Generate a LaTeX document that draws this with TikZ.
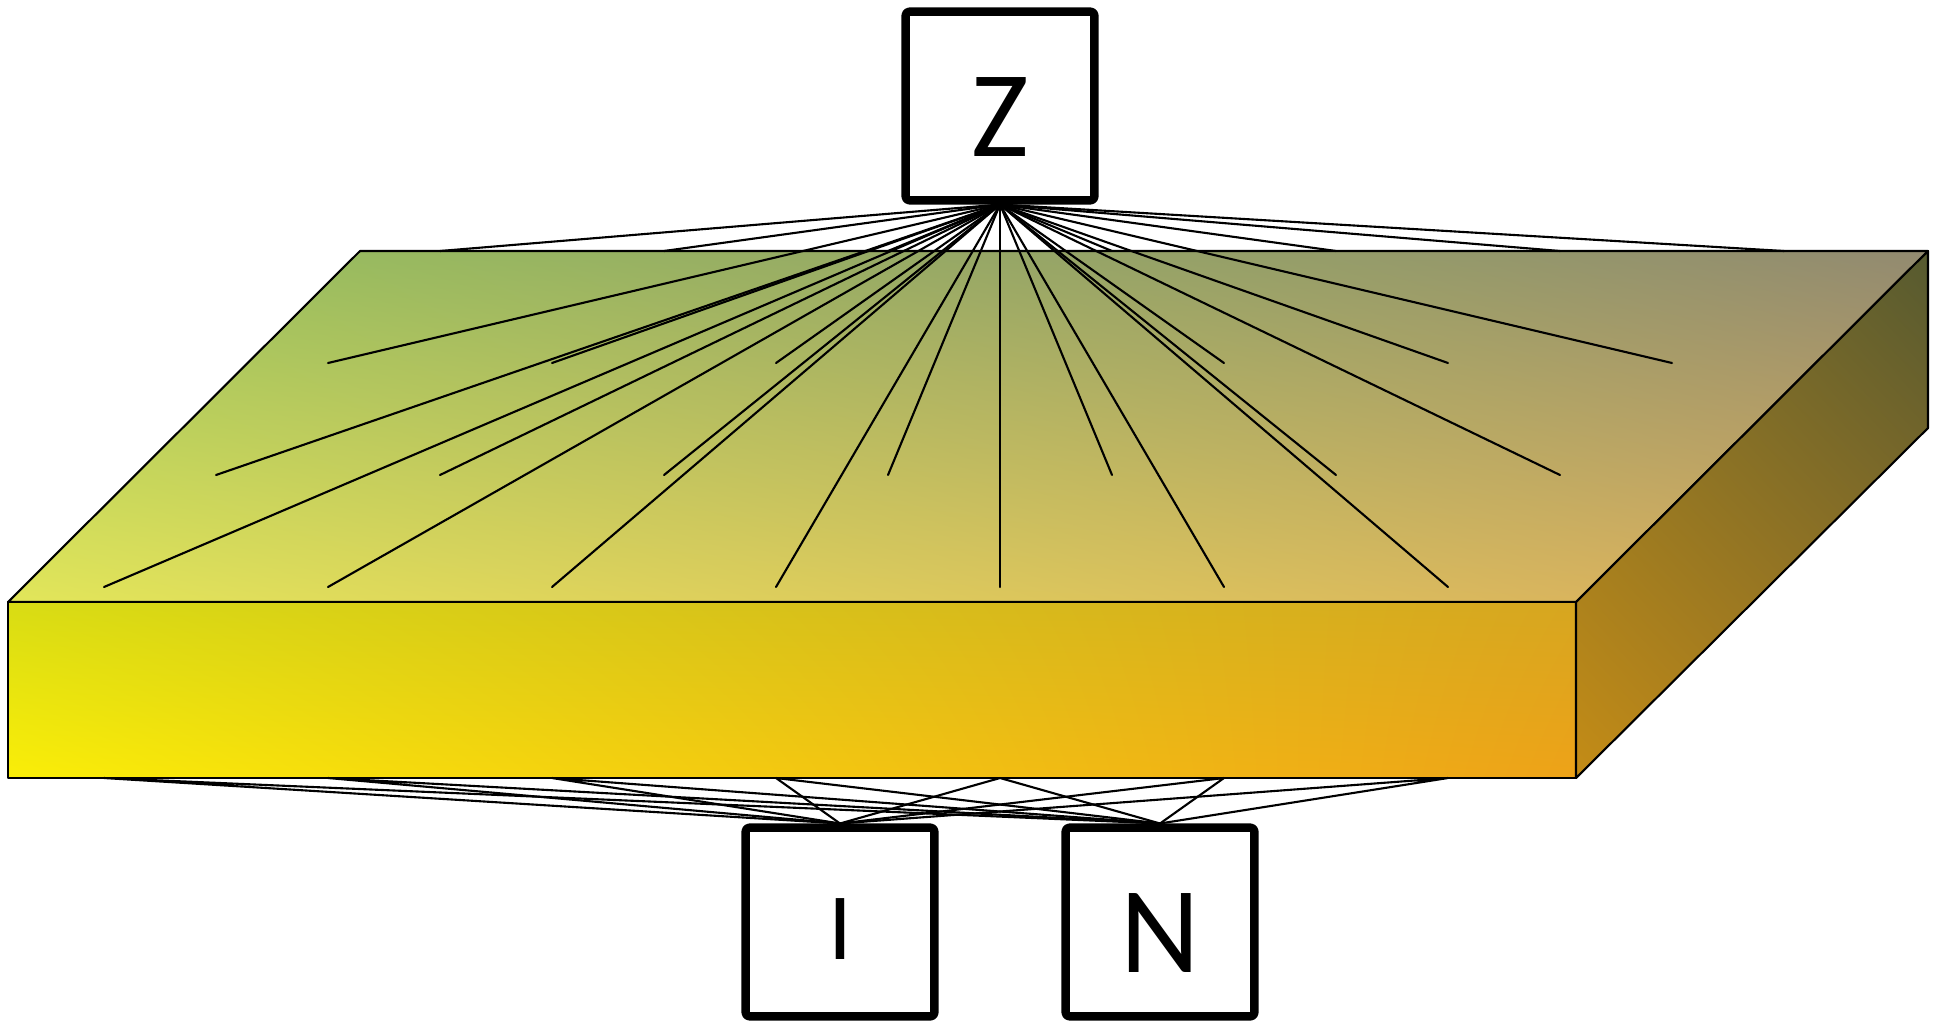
\documentclass[tikz,border=0pt]{standalone}
\usepackage{fontspec}
\newfontfamily\unitfont{Carlito}
\usetikzlibrary{shadings}
\definecolor{topUL}{HTML}{98C45C}
\definecolor{topUR}{HTML}{928A70}
\definecolor{topLL}{HTML}{E2E65A}
\definecolor{topLR}{HTML}{D8AA5E}
\definecolor{frontUL}{HTML}{D8DC14}
\definecolor{frontUR}{HTML}{D6A620}
\definecolor{frontLL}{HTML}{FAEE08}
\definecolor{frontLR}{HTML}{EEA218}
\definecolor{sideUL}{HTML}{827028}
\definecolor{sideUR}{HTML}{565A30}
\definecolor{sideLL}{HTML}{C48C16}
\definecolor{sideLR}{HTML}{A07622}
\tikzset{
  unit/.style={draw, line width=2.4pt, fill=white, rounded corners=1pt, minimum size=1.885cm, inner sep=0pt,
    font=\unitfont\fontsize{35}{35}\selectfont, text height=1cm, text depth=0pt},
  wire/.style={line width=0.6pt},
  slab/.style={draw, line width=0.6pt},
}
\begin{document}
\begin{tikzpicture}[x=0.01cm, y=-0.01cm, line join=round, line cap=round]
    \useasboundingbox (0,0) rectangle (1940,1021);
    % slab faces
    \shade[slab, upper left=topUL, upper right=topUR, lower left=topLL, lower right=topLR]
        (8,602) -- (360,251) -- (1928,251) -- (1576,602) -- cycle;
    \shade[slab, upper left=frontUL, upper right=frontUR, lower left=frontLL, lower right=frontLR]
        (8,602) rectangle (1576,778);
    \shade[slab, upper left=sideUL, upper right=sideUR, lower left=sideLL, lower right=sideLR]
        (1576,602) -- (1928,251) -- (1928,428) -- (1576,778) -- cycle;
    % grid on the top face and on the lower front edge
    \foreach \r in {0,...,3}
        \foreach \c in {0,...,6}
            \coordinate (t-\r-\c) at ({440+224*\c-112*\r},{251+112*\r});
    \foreach \c in {0,...,6}
        \coordinate (b-\c) at ({104+224*\c},778);
    % units
    \node[unit] (Z) at (1000,106) {Z};
    \node[unit, font=\unitfont\fontsize{27}{27}\selectfont, text height=0.75cm] (I) at (840,922) {I};
    \node[unit] (N) at (1160,922) {N};
    % connections
    \foreach \r in {0,...,3}
        \foreach \c in {0,...,6}
            \draw[wire] (Z.south) -- (t-\r-\c);
    \foreach \c in {0,...,6}
        \draw[wire] (b-\c) -- (I.north) (b-\c) -- (N.north);
\end{tikzpicture}
\end{document}
